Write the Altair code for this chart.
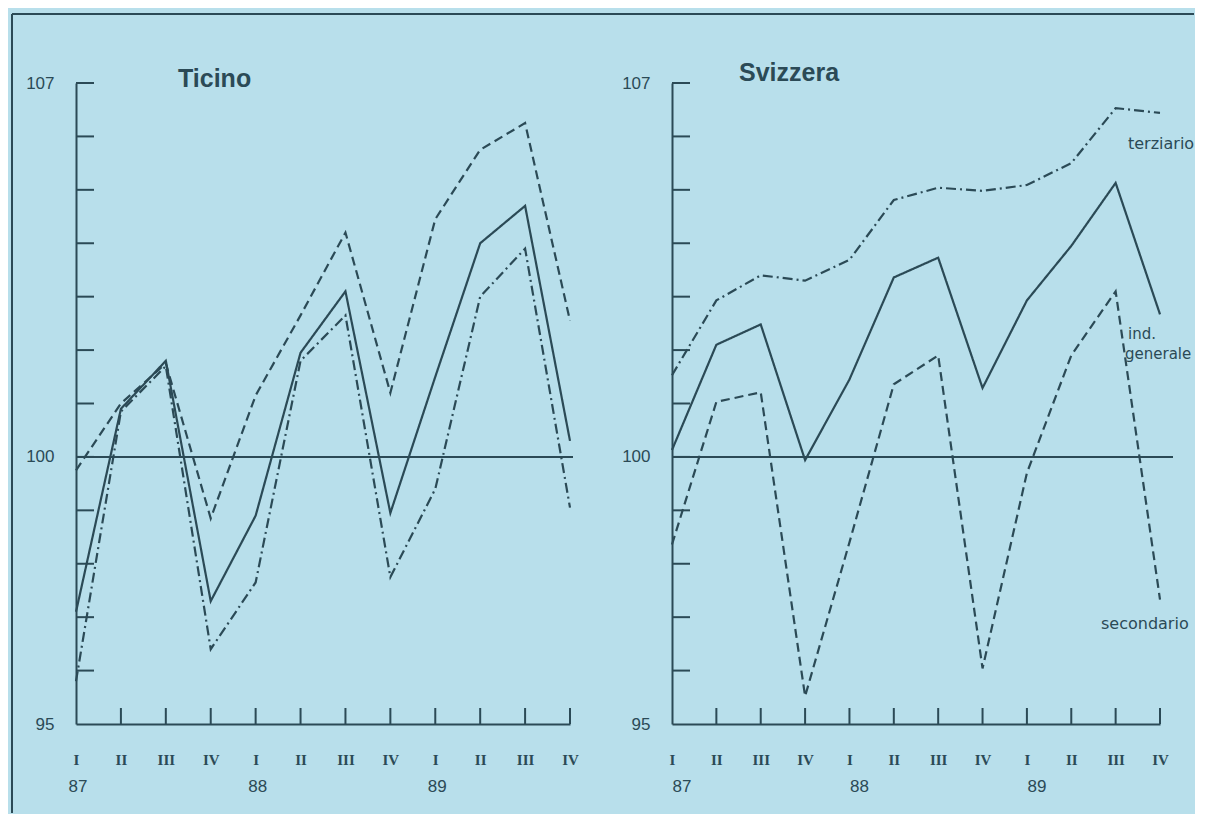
import altair as alt
import pandas as pd

# ---- data ----
quarter_idx = list(range(12))            # I-87 ... IV-89
quarter_names = ["I", "II", "III", "IV"]
years = ["87", "88", "89"]
year_idx = [0, 4, 8]
series_names = ["ind. generale", "secondario", "terziario"]

ticino_generale = [97.1, 100.9, 101.8, 97.3, 98.9, 101.95, 103.1, 98.95, 101.5, 104.0, 104.7, 100.3]
ticino_secondario = [99.75, 101.0, 101.75, 98.85, 101.15, 102.65, 104.2, 101.2, 104.45, 105.75, 106.25, 102.55]
ticino_terziario = [95.8, 100.85, 101.7, 96.4, 97.65, 101.8, 102.65, 97.75, 99.4, 103.0, 103.9, 99.05]

svizzera_generale = [100.13, 102.1, 102.48, 99.94, 101.45, 103.36, 103.73, 101.29, 102.93, 103.95, 105.13, 102.67]
svizzera_secondario = [98.36, 101.03, 101.21, 95.52, 98.4, 101.36, 101.9, 96.04, 99.7, 101.9, 103.1, 97.33]
svizzera_terziario = [101.53, 102.93, 103.4, 103.3, 103.69, 104.81, 105.04, 104.98, 105.09, 105.5, 106.53, 106.44]

y_min, y_max, y_base = 95, 107, 100
y_tick_values = list(range(96, 108))
y_label_values = [95, 100, 107]

# ---- style ----
BG = "#b8dfeb"
INK = "#2b4a56"
H = 641
W_LEFT, W_RIGHT = 494, 488


def long_df(gen, sec, ter):
    rows = []
    for name, vals in zip(series_names, [gen, sec, ter]):
        for q, v in zip(quarter_idx, vals):
            rows.append({"q": q, "v": v, "series": name})
    return pd.DataFrame(rows)


def xenc():
    return alt.X(
        "q:Q",
        scale=alt.Scale(domain=[0, 11], nice=False, zero=False),
        axis=alt.Axis(
            values=quarter_idx,
            labelExpr="['" + "','".join(quarter_names) + "'][datum.value % 4]",
            ticks=False, grid=False, title=None,
            domainColor=INK, domainWidth=2,
            labelFont="Liberation Serif", labelFontSize=15, labelFontWeight="bold",
            labelColor=INK, labelPadding=28, labelOverlap=False, labelFlush=False,
        ),
    )


def yenc():
    return alt.Y(
        "v:Q",
        scale=alt.Scale(domain=[y_min, y_max], nice=False, zero=False),
        axis=alt.Axis(
            values=y_label_values, ticks=False, grid=False, title=None,
            domainColor=INK, domainWidth=2,
            labelFont="Liberation Sans", labelFontSize=17, labelColor=INK,
            labelPadding=22, labelFlush=False, labelOverlap=False,
        ),
    )


def panel(gen, sec, ter, width, title, title_x, title_y, base_ext, year_dx, extra=None):
    df = long_df(gen, sec, ter)
    one = pd.DataFrame({"a": [0]})

    lines = alt.Chart(df).mark_line(color=INK, strokeWidth=2.2).encode(
        x=xenc(), y=yenc(),
        strokeDash=alt.StrokeDash(
            "series:N",
            scale=alt.Scale(domain=series_names, range=[[1, 0], [9, 5], [10, 4, 2, 4]]),
            legend=None,
        ),
        detail="series:N",
    )

    yticks = alt.Chart(pd.DataFrame({"v": y_tick_values})).mark_rule(
        color=INK, strokeWidth=2).encode(y=yenc(), x=alt.value(0), x2=alt.value(18))

    xticks = alt.Chart(pd.DataFrame({"q": quarter_idx[1:]})).mark_rule(
        color=INK, strokeWidth=2).encode(x=xenc(), y=alt.value(H), y2=alt.value(H - 16))

    base = alt.Chart(pd.DataFrame({"v": [y_base]})).mark_rule(
        color=INK, strokeWidth=2).encode(y=yenc(), x=alt.value(0), x2=alt.value(width + base_ext))

    yrs = alt.Chart(pd.DataFrame({"q": year_idx, "label": years})).mark_text(
        color=INK, font="Liberation Sans", fontSize=17, baseline="alphabetic", dx=year_dx
    ).encode(x=xenc(), y=alt.value(H + 68), text="label:N")

    ttl = alt.Chart(one).mark_text(
        text=title, color=INK, font="Liberation Sans", fontSize=25, fontWeight="bold",
        align="left", baseline="alphabetic",
    ).encode(x=alt.value(title_x), y=alt.value(title_y))

    layers = [yticks, xticks, base, lines, yrs, ttl]
    if extra:
        layers += extra
    return alt.layer(*layers).properties(width=width, height=H)


one = pd.DataFrame({"a": [0]})
frame_v = alt.Chart(one).mark_rule(color=INK, strokeWidth=2).encode(
    x=alt.value(-64), y=alt.value(-69), y2=alt.value(730))
frame_h = alt.Chart(one).mark_rule(color=INK, strokeWidth=2).encode(
    x=alt.value(-64), x2=alt.value(1118), y=alt.value(-69))


def label(txt, x, y, size=16):
    return alt.Chart(one).mark_text(
        text=txt, color=INK, font="DejaVu Sans", fontSize=size, align="left", baseline="alphabetic"
    ).encode(x=alt.value(x), y=alt.value(y))


right_labels = [
    label("terziario", 456, 66),
    label("ind.", 456, 256, 15),
    label("generale", 453, 276, 15),
    label("secondario", 429, 546),
]

left = panel(ticino_generale, ticino_secondario, ticino_terziario, W_LEFT,
             "Ticino", 102, 4, 3, 2, extra=[frame_v, frame_h])
right = panel(svizzera_generale, svizzera_secondario, svizzera_terziario, W_RIGHT,
              "Svizzera", 67, -2, 13, 10, extra=right_labels)

chart = alt.hconcat(left, right, spacing=102, bounds="flush").properties(
    padding={"left": 3, "top": 5, "right": 0, "bottom": 0},
    background=BG,
).configure_view(strokeWidth=0)

chart.save("out.html", embed_options={"renderer": "svg", "actions": False})
